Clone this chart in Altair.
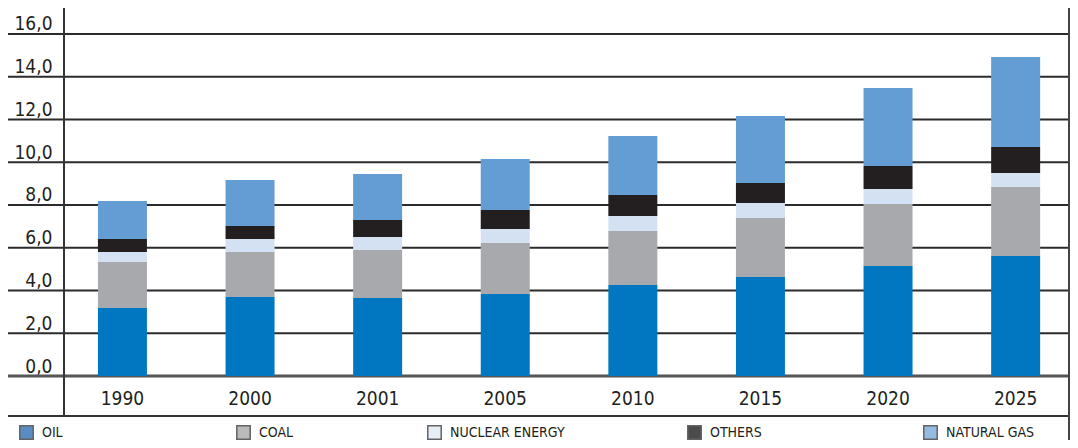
import altair as alt
import pandas as pd

years = ["1990", "2000", "2001", "2005", "2010", "2015", "2020", "2025"]
sources = ["Oil", "Coal", "Nuclear energy", "Others", "Natural gas"]
oil = [3.18, 3.70, 3.65, 3.84, 4.26, 4.63, 5.15, 5.61]
coal = [2.15, 2.10, 2.24, 2.38, 2.52, 2.76, 2.90, 3.23]
nuclear = [0.47, 0.61, 0.61, 0.66, 0.71, 0.70, 0.70, 0.66]
others = [0.61, 0.61, 0.80, 0.89, 0.98, 0.94, 1.07, 1.21]
gas = [1.78, 2.15, 2.15, 2.38, 2.76, 3.13, 3.65, 4.21]
y_ticks = [0, 2, 4, 6, 8, 10, 12, 14, 16]

bar_colors = ["#0077c0", "#a8a9ad", "#d4e1f2", "#231f20", "#639dd4"]
legend_colors = ["#135ca8", "#9d9d9d", "#dfe7f3", "#000000", "#6b9fd3"]
legend_x = [-45, 172, 363, 623, 859]

FONT = "'DejaVu Sans Condensed', 'Liberation Sans', sans-serif"
W, H = 1006, 368

series = [oil, coal, nuclear, others, gas]
rows = []
for k, (name, vals) in enumerate(zip(sources, series)):
    for yr, v in zip(years, vals):
        rows.append({"year": yr, "source": name, "value": v, "order": k})
df = pd.DataFrame(rows)

y_scale = alt.Scale(domain=[0, 17.216], nice=False, zero=True)

grid = alt.Chart(pd.DataFrame({"tick": y_ticks})).mark_rule().encode(
    y=alt.Y("tick:Q", scale=y_scale, title=None,
            axis=alt.Axis(values=y_ticks,
                          labelExpr="replace(format(datum.value, '.1f'), '.', ',')",
                          grid=False, domain=False, ticks=False,
                          labelPadding=12, labelFont=FONT, labelFontSize=19,
                          labelColor="#231f20", labelBaseline="alphabetic",
                          labelOffset=-4)),
    x=alt.value(-56), x2=alt.value(W),
    color=alt.condition("datum.tick == 0", alt.value("#555555"), alt.value("#2b2b2b")),
    strokeWidth=alt.condition("datum.tick == 0", alt.value(3), alt.value(2)),
)

bars = alt.Chart(df).mark_bar().encode(
    x=alt.X("year:N", sort=years, title=None,
            scale=alt.Scale(paddingInner=0.616, paddingOuter=0.25, align=0.532),
            axis=alt.Axis(labelAngle=0, domain=False, ticks=False, grid=False,
                          labelPadding=28, labelBaseline="alphabetic",
                          labelFont=FONT, labelFontSize=19, labelColor="#231f20")),
    y=alt.Y("value:Q", stack="zero", scale=y_scale, title=None),
    color=alt.Color("source:N", scale=alt.Scale(domain=sources, range=bar_colors), legend=None),
    order=alt.Order("order:Q", sort="ascending"),
)

one = pd.DataFrame({"k": [0]})
vline = alt.Chart(one).mark_rule(color="#333333", strokeWidth=2).encode(
    x=alt.value(0), y=alt.value(0), y2=alt.value(408))
hline = alt.Chart(one).mark_rule(color="#333333", strokeWidth=2).encode(
    x=alt.value(-56), x2=alt.value(W), y=alt.value(408))
rborder = alt.Chart(one).mark_rule(color="#444444", strokeWidth=2).encode(
    x=alt.value(W - 1), y=alt.value(0), y2=alt.value(440))

legends = []
for i, name in enumerate(sources):
    legends.append(
        alt.Chart(df).transform_filter("false").mark_square().encode(
            color=alt.Color("source:N",
                            scale=alt.Scale(domain=[name], range=[legend_colors[i]]),
                            legend=alt.Legend(orient="none", legendX=legend_x[i], legendY=417,
                                              title=None, padding=0,
                                              labelExpr="upper(datum.label)",
                                              symbolType="square", symbolSize=180,
                                              symbolStrokeColor="#222222",
                                              symbolStrokeWidth=1.5,
                                              labelFont=FONT, labelFontSize=14,
                                              labelColor="#231f20", labelOffset=8))
        )
    )

chart = alt.layer(grid, bars, vline, hline, rborder, *legends).resolve_scale(
    color="independent"
).properties(
    width=W, height=H,
    autosize=alt.AutoSizeParams(type="none"),
    padding={"left": 56, "top": 0, "right": 0, "bottom": 64},
).configure_view(stroke=None)

chart.save("out.html", embed_options={"renderer": "svg", "actions": False})
